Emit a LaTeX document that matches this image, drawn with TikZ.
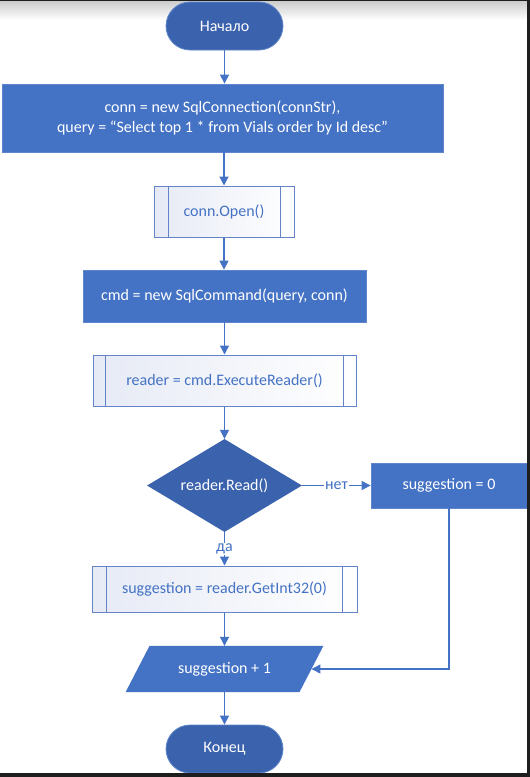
\documentclass[tikz,border=0pt]{standalone}
\usepackage{fontspec}
\setmainfont{Carlito}
\usetikzlibrary{arrows.meta,shapes.geometric}
\definecolor{procblue}{HTML}{4472C4}
\definecolor{termblue}{HTML}{3B62AC}
\definecolor{procedge}{HTML}{5F86CC}
\definecolor{subedge}{HTML}{6384C8}
\definecolor{subfill}{HTML}{E6EAF5}
\definecolor{linkblue}{HTML}{4472C4}
\definecolor{frame}{HTML}{1E1E1E}
\tikzset{
  every node/.style={font=\fontsize{16}{19}\selectfont, inner sep=0pt},
  terminal/.style={draw=procedge, fill=termblue, text=white, rounded corners=24pt,
    minimum width=117pt, minimum height=48pt, line width=0.8pt},
  procbox/.style={draw=procedge, fill=procblue, text=white, line width=0.8pt},
  subproc/.style={draw=subedge, left color=subfill, right color=white, text=procblue, line width=1pt},
  decision/.style={diamond, fill=termblue, text=white, aspect=1.67, draw=none},
  link/.style={draw=linkblue, line width=1.2pt, -{Triangle[width=9pt,length=9pt]}},
  lbl/.style={fill=white, text=procblue, inner sep=1pt}
}
\begin{document}
\begin{tikzpicture}[x=1pt,y=-1pt]
\useasboundingbox (0,0) rectangle (530,777);
\fill[white] (0,0) rectangle (530,777);
\shade[top color=black!20, bottom color=white] (0,1) rectangle (530,20);

% nodes
\node[terminal] (start) at (224.5,26) {Начало};
\node[procbox, minimum width=441pt, minimum height=68pt, align=center] (init) at (222.5,118)
  {conn = new SqlConnection(connStr),\\[1pt] query = “Select top 1 * from Vials order by Id desc”};
\node[subproc, minimum width=140pt, minimum height=51pt] (open) at (224,211.5) {conn.Open()};
\draw[subedge, line width=1pt] ([xshift=15pt]open.north west) -- ([xshift=15pt]open.south west)
  ([xshift=-14pt]open.north east) -- ([xshift=-14pt]open.south east);
\node[procbox, minimum width=283pt, minimum height=52pt] (cmd) at (224.5,296) {cmd = new SqlCommand(query, conn)};
\node[subproc, minimum width=263pt, minimum height=51pt] (reader) at (224.5,380.5) {reader = cmd.ExecuteReader()};
\draw[subedge, line width=1pt] ([xshift=13pt]reader.north west) -- ([xshift=13pt]reader.south west)
  ([xshift=-13pt]reader.north east) -- ([xshift=-13pt]reader.south east);
\node[decision, minimum width=155pt, minimum height=93pt] (read) at (224.5,485.5) {};
\node[text=white] at (read.center) {reader.Read()};
\node[procbox, minimum width=156pt, minimum height=45pt] (zero) at (449,485.5) {suggestion = 0};
\node[subproc, minimum width=265pt, minimum height=46pt] (get) at (224.5,589) {suggestion = reader.GetInt32(0)};
\draw[subedge, line width=1pt] ([xshift=15pt]get.north west) -- ([xshift=15pt]get.south west)
  ([xshift=-15pt]get.north east) -- ([xshift=-15pt]get.south east);
\node[minimum width=173.5pt, minimum height=46pt] (inc) at (224.5,669) {};
\fill[procblue] ([xshift=12pt]inc.north west) -- ([xshift=12pt]inc.north east)
  -- ([xshift=-12pt]inc.south east) -- ([xshift=-12pt]inc.south west) -- cycle;
\node[text=white] at (inc.center) {suggestion + 1};
\node[terminal] (stop) at (224.5,749) {Конец};

% connectors
\draw[link] (start.south) -- (start.south |- init.north);
\draw[link] (open.north |- init.south) -- (open.north);
\draw[link] (open.south) -- (open.south |- cmd.north);
\draw[link] (cmd.south) -- (reader.north);
\draw[link] (reader.south) -- (read.north);
\draw[link] (read.east) -- node[lbl] {нет} (zero.west);
\draw[link] (read.south) -- node[lbl] {да} (get.north);
\draw[link] (get.south) -- (inc.north);
\draw[link] (zero.south) -- (zero.south |- inc.east) -- (inc.east);
\draw[link] (inc.south) -- (stop.north);

% frame
\fill[frame] (0,0) rectangle (530,1.2);
\fill[frame] (0,773) rectangle (530,777);
\fill[frame] (527,0) rectangle (530,777);
\end{tikzpicture}
\end{document}
